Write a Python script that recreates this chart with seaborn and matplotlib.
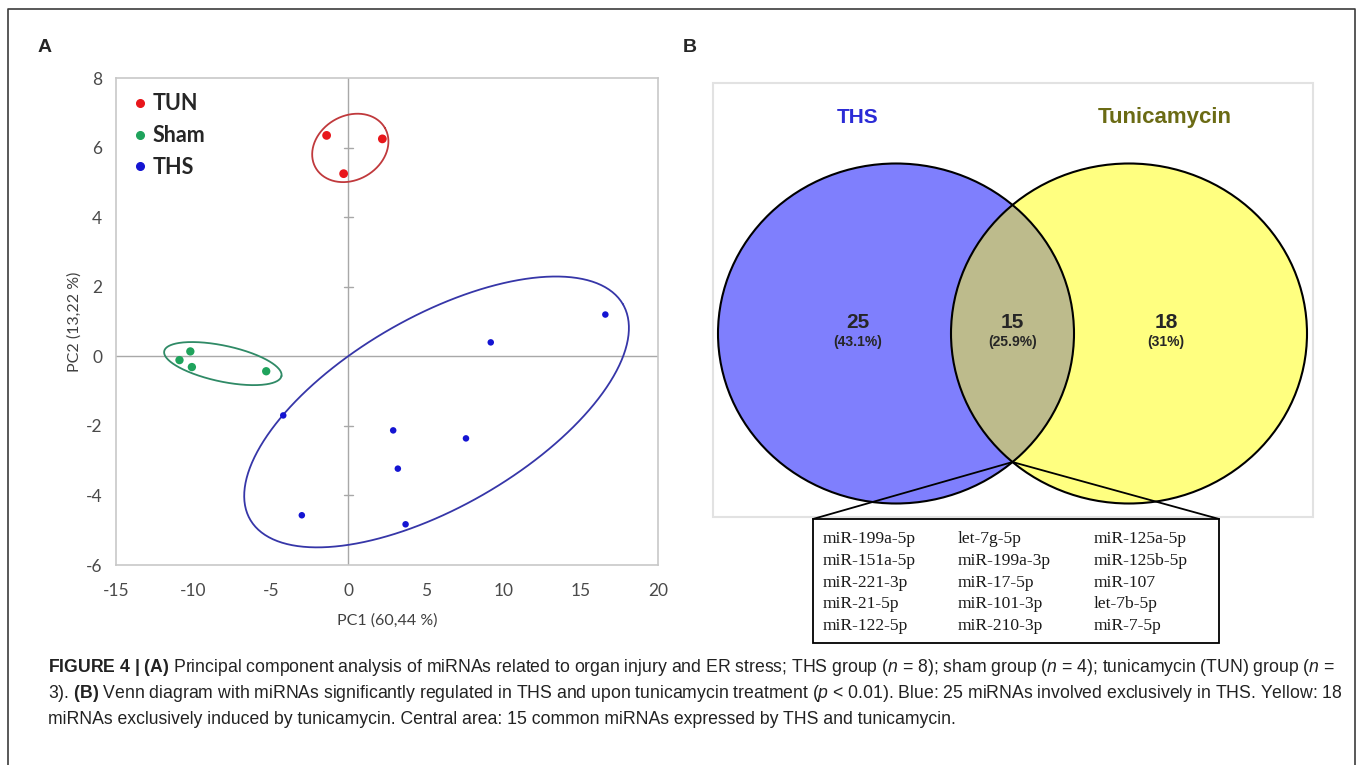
import numpy as np
import pandas as pd
import matplotlib
matplotlib.use("Agg")
import matplotlib.pyplot as plt
from matplotlib.patches import Ellipse, Rectangle
from matplotlib.lines import Line2D
import seaborn as sns

# ---------------- data ----------------
groups = ["TUN", "Sham", "THS"]
tun_pc1 = [-1.4, 2.2, -0.3]
tun_pc2 = [6.35, 6.25, 5.25]
sham_pc1 = [-10.2, -10.9, -10.1, -5.3]
sham_pc2 = [0.14, -0.11, -0.31, -0.43]
ths_pc1 = [9.2, 16.6, -4.2, 2.9, 7.6, 3.2, -3.0, 3.7]
ths_pc2 = [0.40, 1.20, -1.70, -2.13, -2.36, -3.23, -4.57, -4.83]

# confidence ellipses: centre x, centre y, semi-axis a, semi-axis b (x units, aspect-normalised), angle
ell_cx = [0.13, -8.1, 5.7]
ell_cy = [5.99, -0.21, -1.6]
ell_a = [2.58, 3.87, 13.9]
ell_b = [2.07, 1.16, 6.13]
ell_ang = [30, -12, 30]

x_ticks = [-15, -10, -5, 0, 5, 10, 15, 20]
y_ticks = [-6, -4, -2, 0, 2, 4, 6, 8]

venn_sets = ["THS", "Tunicamycin"]
venn_counts = [25, 15, 18]
venn_pcts = ["(43.1%)", "(25.9%)", "(31%)"]

common_mirnas = [
    ["miR-199a-5p", "miR-151a-5p", "miR-221-3p", "miR-21-5p", "miR-122-5p"],
    ["let-7g-5p", "miR-199a-3p", "miR-17-5p", "miR-101-3p", "miR-210-3p"],
    ["miR-125a-5p", "miR-125b-5p", "miR-107", "let-7b-5p", "miR-7-5p"],
]

caption_lines = [
    r"$\mathbf{FIGURE\ 4\ |\ (A)}$ Principal component analysis of miRNAs related to organ injury and ER stress; THS group ($\mathit{n}$ = 8); sham group ($\mathit{n}$ = 4); tunicamycin (TUN) group ($\mathit{n}$ =",
    r"3). $\mathbf{(B)}$ Venn diagram with miRNAs significantly regulated in THS and upon tunicamycin treatment ($\mathit{p}$ < 0.01). Blue: 25 miRNAs involved exclusively in THS. Yellow: 18",
    r"miRNAs exclusively induced by tunicamycin. Central area: 15 common miRNAs expressed by THS and tunicamycin.",
]

# ---------------- style ----------------
sns.set_style("white")
plt.rcParams["font.family"] = ["Liberation Sans", "DejaVu Sans"]
plt.rcParams["axes.unicode_minus"] = False
plt.rcParams["mathtext.fontset"] = "custom"
plt.rcParams["mathtext.rm"] = "Liberation Sans"
plt.rcParams["mathtext.bf"] = "Liberation Sans:bold"
plt.rcParams["mathtext.it"] = "Liberation Sans:italic"

W, H = 1362, 765
fig = plt.figure(figsize=(W / 100, H / 100), dpi=100)
fig.patch.set_facecolor("white")

pal = {"TUN": "#e8161b", "Sham": "#1fa35c", "THS": "#1414d2"}
ell_colors = ["#c0393c", "#2f8a66", "#3636a8"]

df = pd.DataFrame({
    "PC1": tun_pc1 + sham_pc1 + ths_pc1,
    "PC2": tun_pc2 + sham_pc2 + ths_pc2,
    "group": ["TUN"] * len(tun_pc1) + ["Sham"] * len(sham_pc1) + ["THS"] * len(ths_pc1),
})

# ---------------- panel A ----------------
axA = fig.add_axes([116 / W, (H - 565) / H, 542 / W, 487 / H])
axA.set_xlim(-15, 20)
axA.set_ylim(-6, 8)
axA.axhline(0, color="#a8a8a8", lw=1.0, zorder=1)
axA.axvline(0, color="#a8a8a8", lw=1.0, zorder=1)
for yt in y_ticks:
    if yt not in (-6, 0, 8):
        axA.plot([-0.3, 0.3], [yt, yt], color="#a8a8a8", lw=1.0, zorder=1)

sns.scatterplot(data=df, x="PC1", y="PC2", hue="group", palette=pal,
                size="group", sizes={"TUN": 40, "Sham": 36, "THS": 22},
                linewidth=0, legend=False, ax=axA, zorder=3)

# aspect-normalised ellipses
fig.canvas.draw()
bb = axA.get_window_extent()
s = (bb.height / 14) / (bb.width / 35)
t = np.linspace(0, 2 * np.pi, 300)
for cx, cy, a, b, ang, col in zip(ell_cx, ell_cy, ell_a, ell_b, ell_ang, ell_colors):
    th = np.deg2rad(ang)
    X = a * np.cos(t) * np.cos(th) - b * np.sin(t) * np.sin(th)
    Y = a * np.cos(t) * np.sin(th) + b * np.sin(t) * np.cos(th)
    axA.plot(cx + X, cy + Y / s, color=col, lw=1.3, zorder=2)

axA.set_xticks(x_ticks)
axA.set_yticks(y_ticks)
axA.tick_params(axis="both", length=0, labelsize=12.5, labelcolor="#4a4a4a")
axA.tick_params(axis="x", pad=13)
axA.tick_params(axis="y", pad=10)
for lab in axA.get_xticklabels() + axA.get_yticklabels():
    lab.set_fontfamily(["Lato", "DejaVu Sans"])
axA.set_xlabel("PC1 (60,44 %)", fontsize=11.5, color="#404040", labelpad=10,
               fontfamily=["Lato", "DejaVu Sans"])
axA.set_ylabel("PC2 (13,22 %)", fontsize=11.5, color="#404040", labelpad=3,
               fontfamily=["Lato", "DejaVu Sans"])
for sp in axA.spines.values():
    sp.set_color("#c8c8c8")
    sp.set_linewidth(1.2)

handles = [Line2D([], [], marker="o", ls="", color=pal[g], markersize=5.5) for g in groups]
leg = axA.legend(handles, groups, loc="upper left", frameon=False,
                 bbox_to_anchor=(0.0, 0.995), handletextpad=0.1, labelspacing=0.5,
                 handlelength=1.0, borderaxespad=0.2,
                 prop={"family": ["Lato", "DejaVu Sans"], "weight": "bold", "size": 15.5})

# ---------------- overlay (panel B, labels, caption) ----------------
ov = fig.add_axes([0, 0, 1, 1], zorder=5)
ov.set_xlim(0, W)
ov.set_ylim(H, 0)
ov.axis("off")
ov.patch.set_alpha(0)

# outer frame
ov.plot([8, 8, 1355, 1355], [770, 9, 9, 770], color="#3c3c3c", lw=1.2)

ov.text(45, 47, "A", fontsize=14, fontweight="bold", ha="center", va="center")
ov.text(690, 47, "B", fontsize=14, fontweight="bold", ha="center", va="center")

# Venn frame
ov.add_patch(Rectangle((713, 83), 600, 434, fill=False, edgecolor="#e2e2e2", lw=1.5))

cL = (896, 333.5)
cR = (1129, 333.5)
ew, eh = 356, 340
eL = Ellipse(cL, ew, eh, facecolor="#7f7ffd", edgecolor="none", zorder=2)
eR = Ellipse(cR, ew, eh, facecolor="#ffff80", edgecolor="none", zorder=2)
ov.add_patch(eL)
ov.add_patch(eR)
eI = Ellipse(cR, ew, eh, facecolor="#bdbb8c", edgecolor="none", zorder=3)
ov.add_patch(eI)
eI.set_clip_path(eL)
for c in (cL, cR):
    ov.add_patch(Ellipse(c, ew, eh, facecolor="none", edgecolor="black", lw=1.5, zorder=4))

# bottom crossing point of the two circles
xm = (cL[0] + cR[0]) / 2
ym = cL[1] + (eh / 2) * np.sqrt(1 - ((xm - cL[0]) / (ew / 2)) ** 2)

tb_l, tb_r, tb_t, tb_b = 813, 1219, 519, 643
ov.plot([xm, tb_l], [ym, tb_t], color="black", lw=1.3, zorder=5)
ov.plot([xm, tb_r], [ym, tb_t], color="black", lw=1.3, zorder=5)
ov.add_patch(Rectangle((tb_l, tb_t), tb_r - tb_l, tb_b - tb_t, facecolor="white",
                       edgecolor="black", lw=1.3, zorder=5))

ov.text(858, 117, venn_sets[0], fontsize=15, fontweight="bold", color="#2b2bd6",
        ha="center", va="center", zorder=6)
ov.text(1165, 117, venn_sets[1], fontsize=16, fontweight="bold", color="#6b6b14",
        ha="center", va="center", zorder=6)

num_x = [858, xm, 1166]
for x, n, p in zip(num_x, venn_counts, venn_pcts):
    ov.text(x, 322, str(n), fontsize=15, fontweight="bold", ha="center", va="center", zorder=6)
    ov.text(x, 342, p, fontsize=10, fontweight="bold", ha="center", va="center", zorder=6)

col_x = [823, 958, 1094]
row_y = [539, 561, 583, 604, 626]
for cx, col in zip(col_x, common_mirnas):
    for ry, name in zip(row_y, col):
        ov.text(cx, ry, name, fontsize=12.6, fontfamily=["Liberation Serif", "DejaVu Serif"],
                ha="left", va="center", color="#1a1a1a", zorder=6)

cap_y = [667, 693, 719]
for y, line in zip(cap_y, caption_lines):
    ov.text(48, y, line, fontsize=12.7, color="#222222", ha="left", va="center")

fig.savefig("out.png", dpi=100, facecolor="white")
